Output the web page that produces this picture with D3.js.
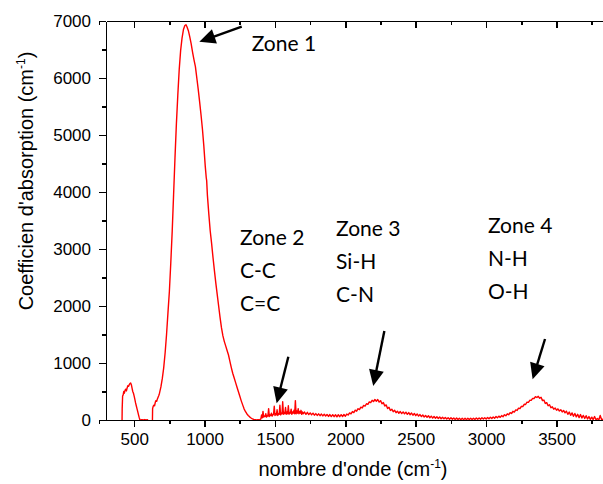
<!DOCTYPE html>
<html>
<head>
<meta charset="utf-8">
<script src="https://cdn.jsdelivr.net/npm/d3@7"></script>
<style>
  html, body { margin: 0; padding: 0; background: #fff; }
  svg { display: block; }
</style>
</head>
<body>
<svg id="chart" width="603" height="484"></svg>
<script>
// ---- Data ----
const xTicks = [500, 1000, 1500, 2000, 2500, 3000, 3500];
const yTicks = [0, 1000, 2000, 3000, 4000, 5000, 6000, 7000];

// wavenumber (cm-1)
const wavenumber = [
  400, 412, 415, 418, 422, 426, 430, 435, 440, 445, 450, 455, 460, 465, 470, 475, 480, 485, 490, 495,
  500, 505, 510, 515, 520, 525, 530, 535, 540, 545, 555, 565, 575, 585, 595, 605, 615, 628, 631, 635,
  640, 645, 650, 655, 660, 665, 670, 675, 680, 690, 700, 710, 720, 730, 740, 750, 760, 770, 780, 790,
  800, 810, 820, 830, 840, 850, 860, 868, 875, 885, 895, 905, 915, 925, 935, 945, 955, 965, 975, 985,
  995, 1005, 1012, 1015, 1020, 1030, 1040, 1050, 1060, 1070, 1080, 1090, 1100, 1110, 1120, 1130, 1140, 1150, 1160, 1170,
  1180, 1190, 1200, 1210, 1220, 1230, 1240, 1250, 1260, 1270, 1280, 1290, 1300, 1310, 1320, 1330, 1340, 1350, 1360, 1370,
  1380, 1390, 1400, 1405, 1410, 1415, 1420, 1425, 1430, 1435, 1440, 1445, 1450, 1455, 1460, 1465, 1470, 1475, 1480, 1485,
  1490, 1495, 1500, 1505, 1510, 1515, 1520, 1525, 1530, 1535, 1540, 1545, 1550, 1555, 1560, 1565, 1570, 1575, 1580, 1585,
  1590, 1595, 1600, 1605, 1610, 1615, 1620, 1625, 1630, 1635, 1640, 1645, 1650, 1655, 1660, 1665, 1670, 1675, 1680, 1685,
  1690, 1695, 1700, 1710, 1720, 1730, 1740, 1750, 1760, 1770, 1780, 1790, 1800, 1810, 1820, 1830, 1840, 1850, 1860, 1870,
  1880, 1890, 1900, 1910, 1920, 1930, 1940, 1950, 1960, 1970, 1980, 1990, 2000, 2010, 2020, 2030, 2040, 2050, 2060, 2070,
  2080, 2090, 2100, 2110, 2120, 2130, 2140, 2150, 2160, 2170, 2180, 2190, 2200, 2210, 2220, 2230, 2240, 2250, 2260, 2270,
  2280, 2290, 2300, 2310, 2320, 2330, 2340, 2350, 2360, 2370, 2380, 2390, 2400, 2410, 2420, 2430, 2440, 2450, 2460, 2470,
  2480, 2490, 2500, 2510, 2520, 2530, 2540, 2550, 2560, 2570, 2580, 2590, 2600, 2610, 2620, 2630, 2640, 2650, 2660, 2670,
  2680, 2690, 2700, 2710, 2720, 2730, 2740, 2750, 2760, 2770, 2780, 2790, 2800, 2810, 2820, 2830, 2840, 2850, 2860, 2870,
  2880, 2890, 2900, 2910, 2920, 2930, 2940, 2950, 2960, 2970, 2980, 2990, 3000, 3010, 3020, 3030, 3040, 3050, 3060, 3070,
  3080, 3090, 3100, 3110, 3120, 3130, 3140, 3150, 3160, 3170, 3180, 3190, 3200, 3210, 3220, 3230, 3240, 3250, 3260, 3270,
  3280, 3290, 3300, 3310, 3320, 3330, 3340, 3350, 3360, 3370, 3380, 3390, 3400, 3410, 3420, 3430, 3440, 3450, 3460, 3470,
  3480, 3490, 3500, 3510, 3520, 3530, 3540, 3550, 3560, 3570, 3580, 3590, 3600, 3610, 3620, 3630, 3640, 3650, 3660, 3670,
  3680, 3690, 3700, 3710, 3720, 3730, 3740, 3750, 3760, 3770, 3780, 3790, 3800, 3810, 3820, 3830, 3840
];

// absorption coefficient (cm-1)
const absorption = [
  -400, -400, 200, 420, 440, 500, 470, 520, 540, 510, 560, 600, 590, 620, 640, 650, 620, 560, 500, 470,
  420, 360, 300, 250, 200, 150, 100, 50, 10, 0, 5, 0, 8, 0, 5, -60, -300, -300, 200, 240,
  260, 250, 310, 340, 330, 370, 400, 430, 470, 580, 730, 920, 1180, 1500, 1880, 2250, 2750, 3300, 3950, 4600,
  5200, 5700, 6150, 6480, 6700, 6850, 6920, 6935, 6900, 6830, 6720, 6600, 6450, 6320, 6200, 6000, 5800, 5580, 5350, 5100,
  4800, 4450, 4250, 4200, 3950, 3620, 3320, 3100, 2850, 2620, 2400, 2200, 2000, 1800, 1620, 1480, 1380, 1300, 1220, 1140,
  1030, 920, 820, 740, 660, 580, 500, 420, 340, 270, 200, 150, 110, 80, 55, 35, 20, 10, 5, 0,
  5, 0, 20, 90, 40, 150, 50, 70, 60, 110, 50, 80, 70, 200, 60, 90, 80, 120, 70, 90,
  100, 240, 80, 110, 90, 180, 80, 110, 100, 260, 90, 120, 110, 320, 100, 130, 110, 220, 100, 140,
  110, 250, 100, 130, 120, 190, 100, 140, 120, 170, 110, 340, 110, 160, 120, 200, 110, 150, 120, 170,
  100, 140, 110, 140, 100, 135, 95, 125, 90, 120, 85, 112, 80, 108, 76, 104, 72, 100, 70, 98,
  62, 96, 60, 94, 58, 92, 56, 92, 58, 94, 62, 96, 66, 104, 88, 124, 108, 148, 130, 172,
  155, 198, 182, 225, 212, 255, 245, 285, 275, 318, 305, 345, 325, 360, 330, 360, 315, 340, 285, 305,
  245, 265, 200, 222, 168, 190, 145, 170, 128, 155, 118, 148, 112, 142, 108, 138, 100, 130, 92, 122,
  84, 114, 76, 106, 68, 96, 60, 88, 52, 80, 46, 74, 40, 68, 34, 62, 30, 56, 26, 52,
  22, 48, 20, 44, 16, 40, 14, 38, 12, 36, 10, 34, 8, 32, 6, 30, 6, 30, 6, 30,
  8, 32, 8, 32, 10, 34, 12, 36, 14, 38, 16, 40, 18, 44, 22, 48, 26, 54, 32, 60,
  38, 68, 46, 78, 58, 92, 74, 108, 92, 128, 114, 152, 140, 178, 168, 208, 200, 240, 236, 276,
  272, 312, 310, 346, 345, 378, 378, 410, 395, 415, 382, 398, 340, 350, 290, 305, 250, 268, 215, 232,
  190, 210, 172, 195, 158, 180, 142, 168, 125, 155, 100, 140, 82, 125, 66, 115, 55, 100, 42, 95,
  35, 80, 28, 75, 18, 60, 12, 50, 8, 60, 5, 25, 0, 80, 5, 15, 0
];

// annotations, in data coordinates
const zoneNames = ["Zone 1", "Zone 2", "Zone 3", "Zone 4"];
const zoneBonds = [[], ["C-C", "C=C"], ["Si-H", "C-N"], ["N-H", "O-H"]];
const zoneLabelX = [1335, 1252, 1934, 3013];
const zoneLabelY = [6468, 3070, 3228, 3281];
const arrowFrom = [[1264, 6900], [1595, 1111], [2277, 1561], [3418, 1421]];
const arrowTo   = [[963, 6637], [1512, 293], [2198, 596], [3330, 714]];

// ---- Layout ----
const svg = d3.select("#chart");
const mLeft = 106, mTop = 21, mBottom = 420;
const x = d3.scaleLinear().domain([300, 4000]).range([mLeft, mLeft + 3700 * 0.1408]);
const y = d3.scaleLinear().domain([0, 7000]).range([mBottom, mTop]);
const mRight = x.range()[1];

svg.append("defs").append("clipPath").attr("id", "plotclip")
  .append("rect").attr("x", mLeft).attr("y", mTop - 5).attr("width", mRight - mLeft).attr("height", mBottom - mTop + 5);

// curve
const pts = wavenumber.map((w, i) => [w, absorption[i]]);
svg.append("path")
  .datum(pts)
  .attr("clip-path", "url(#plotclip)")
  .attr("fill", "none")
  .attr("stroke", "#ff0000")
  .attr("stroke-width", 1.4)
  .attr("stroke-linejoin", "round")
  .attr("d", d3.line().x(d => x(d[0])).y(d => y(d[1])));

// axes
const axisFont = "'Liberation Sans', Arial, sans-serif";
const minorX = d3.range(250, 4001, 250);
const minorY = d3.range(0, 7001, 500);
const fmt = d3.format("d");

// bottom axis
const gx = svg.append("g").attr("transform", `translate(0,${mBottom})`);
gx.call(d3.axisBottom(x).tickValues(minorX).tickSize(4).tickFormat(""));
gx.call(g => g.select(".domain").remove());
const gx2 = svg.append("g").attr("transform", `translate(0,${mBottom})`);
gx2.call(d3.axisBottom(x).tickValues(xTicks).tickSize(7).tickSizeOuter(0).tickPadding(6).tickFormat(fmt));
gx2.selectAll("text").attr("font-family", axisFont).attr("font-size", 17).attr("fill", "#000");

// top axis (inward ticks)
const gt = svg.append("g").attr("transform", `translate(0,${mTop})`);
gt.call(d3.axisBottom(x).tickValues(minorX).tickSize(4).tickFormat(""));
gt.call(g => g.select(".domain").remove());
const gt2 = svg.append("g").attr("transform", `translate(0,${mTop})`);
gt2.call(d3.axisBottom(x).tickValues(d3.range(500, 4001, 500)).tickSize(7).tickSizeOuter(0).tickFormat(""));

// left axis
const gy = svg.append("g").attr("transform", `translate(${mLeft},0)`);
gy.call(d3.axisLeft(y).tickValues(minorY).tickSize(4).tickFormat(""));
gy.call(g => g.select(".domain").remove());
const gy2 = svg.append("g").attr("transform", `translate(${mLeft},0)`);
gy2.call(d3.axisLeft(y).tickValues(yTicks).tickSize(7).tickSizeOuter(0).tickPadding(8).tickFormat(fmt));
gy2.selectAll("text").attr("font-family", axisFont).attr("font-size", 17).attr("fill", "#000");

svg.selectAll(".tick line").attr("stroke", "#000").attr("stroke-width", 1.6).attr("shape-rendering", "crispEdges");
svg.selectAll(".domain").attr("stroke", "#000").attr("stroke-width", 1.6).attr("shape-rendering", "crispEdges");

// axis titles
const xt = svg.append("text")
  .attr("x", 353).attr("y", 476)
  .attr("text-anchor", "middle")
  .attr("font-family", axisFont).attr("font-size", 20).attr("fill", "#000");
xt.append("tspan").text("nombre d'onde (cm");
xt.append("tspan").attr("dy", -8).attr("font-size", 12).text("-1");
xt.append("tspan").attr("dy", 8).text(")");

const yt = svg.append("text")
  .attr("transform", "translate(33,181) rotate(-90)")
  .attr("text-anchor", "middle")
  .attr("font-family", axisFont).attr("font-size", 20).attr("fill", "#000");
yt.append("tspan").text("Coefficien d'absorption (cm");
yt.append("tspan").attr("dy", -8).attr("font-size", 12).text("-1");
yt.append("tspan").attr("dy", 8).text(")");

// zone labels
const zoneFont = "Lato, 'Open Sans', sans-serif";
zoneNames.forEach((name, i) => {
  const t = svg.append("text")
    .attr("x", x(zoneLabelX[i])).attr("y", y(zoneLabelY[i]))
    .attr("font-family", zoneFont).attr("font-size", 21).attr("fill", "#000");
  t.append("tspan").text(name);
  zoneBonds[i].forEach((b, j) => {
    t.append("tspan").attr("x", x(zoneLabelX[i])).attr("dy", 33).text(b);
  });
});

// arrows
arrowFrom.forEach((f, i) => {
  const x1 = x(f[0]), y1 = y(f[1]);
  const x2 = x(arrowTo[i][0]), y2 = y(arrowTo[i][1]);
  const dx = x2 - x1, dy = y2 - y1, len = Math.hypot(dx, dy);
  const ux = dx / len, uy = dy / len;
  const headLen = 16, headHalf = 7.5;
  const bx = x2 - ux * headLen, by = y2 - uy * headLen;
  svg.append("line")
    .attr("x1", x1).attr("y1", y1).attr("x2", bx + ux * 2).attr("y2", by + uy * 2)
    .attr("stroke", "#000").attr("stroke-width", 2.4);
  svg.append("path")
    .attr("d", `M${x2},${y2}L${bx - uy * headHalf},${by + ux * headHalf}L${bx + uy * headHalf},${by - ux * headHalf}Z`)
    .attr("fill", "#000");
});
</script>
</body>
</html>
